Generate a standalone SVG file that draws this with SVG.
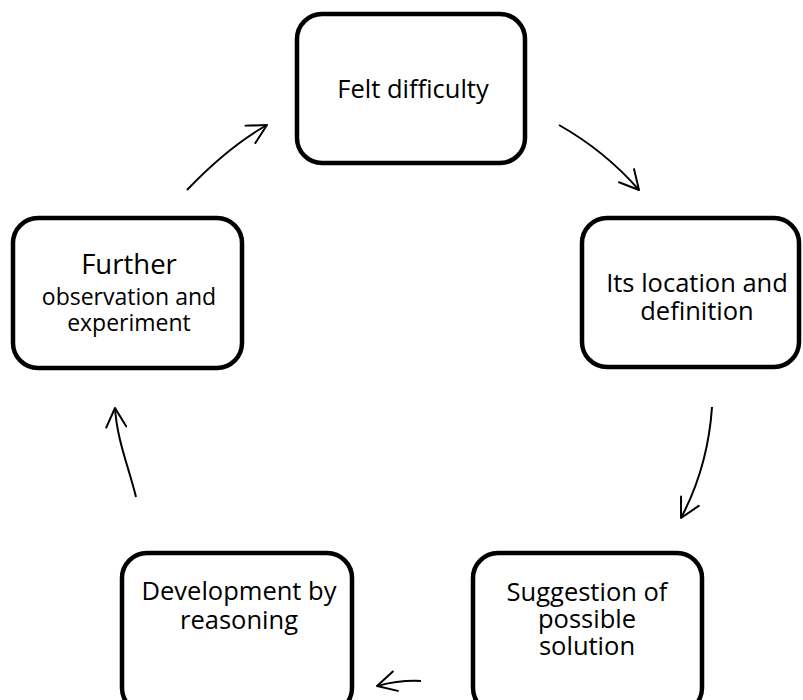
<svg xmlns="http://www.w3.org/2000/svg" width="803" height="700" viewBox="0 0 803 700">
<style>
.box{fill:#fff;stroke:#000;stroke-width:4.5}
.t{font-family:"Open Sans","Noto Sans",sans-serif;font-size:25.5px;fill:#000;text-anchor:middle}
.arr{fill:none;stroke:#000;stroke-width:2;marker-end:url(#ah)}
</style>
<defs>
<marker id="ah" markerUnits="userSpaceOnUse" viewBox="-22 -12 24 24" refX="0" refY="0" markerWidth="24" markerHeight="24" orient="auto">
<path d="M-19,-10 L0,0 L-19,10" fill="none" stroke="#000" stroke-width="2" stroke-linecap="round" stroke-linejoin="round"/>
</marker>
</defs>
<rect width="803" height="700" fill="#fff"/>
<g id="connectors">
<path class="arr" d="M559,125 Q605,151 639,190"/>
<path class="arr" d="M712,407 Q708,467 681,518"/>
<path class="arr" d="M421,681 Q400,680 377,686"/>
<path class="arr" d="M136,497 C129,468 117,440 115,408"/>
<path class="arr" d="M187,190 Q228,147 267,125"/>
</g>
<g id="felt">
<rect class="box" x="297" y="14" width="228" height="149" rx="25"/>
<text class="t" x="413" y="98">Felt difficulty</text>
</g>
<g id="location">
<rect class="box" x="582" y="218" width="217" height="149" rx="25"/>
<text class="t" x="697" y="292">Its location and</text>
<text class="t" x="697" y="320">definition</text>
</g>
<g id="suggestion">
<rect class="box" x="473" y="553" width="229" height="160" rx="25"/>
<text class="t" x="587" y="601">Suggestion of</text>
<text class="t" x="587" y="628">possible</text>
<text class="t" x="587" y="655">solution</text>
</g>
<g id="development">
<rect class="box" x="122" y="553" width="230" height="160" rx="25"/>
<text class="t" x="239" y="600">Development by</text>
<text class="t" x="239" y="629">reasoning</text>
</g>
<g id="further">
<rect class="box" x="13" y="218" width="229" height="150" rx="25"/>
<text class="t" x="129" y="274" style="font-size:27.5px">Further</text>
<text class="t" x="129" y="305" style="font-size:23px">observation and</text>
<text class="t" x="129" y="331" style="font-size:23px">experiment</text>
</g>
</svg>
